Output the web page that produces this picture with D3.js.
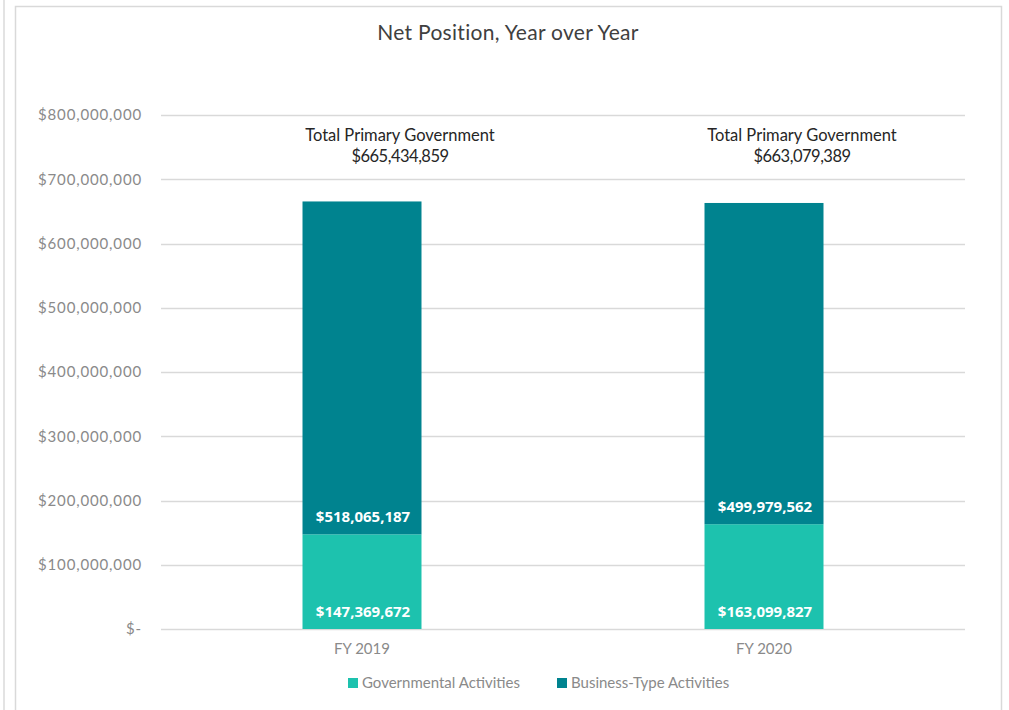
<!DOCTYPE html>
<html>
<head>
<meta charset="utf-8">
<script src="https://cdn.jsdelivr.net/npm/d3@7"></script>
<style>
  html, body { margin: 0; padding: 0; background: #fff; }
  svg { display: block; }
</style>
</head>
<body>
<svg id="chart" width="1009" height="710"></svg>
<script>
// ---- data ----
const categories = ["FY 2019", "FY 2020"];
const seriesNames = ["Governmental Activities", "Business-Type Activities"];
const governmental = [147369672, 163099827];
const businessType = [518065187, 499979562];
const totals = [665434859, 663079389];
const yTicks = [0, 100000000, 200000000, 300000000, 400000000, 500000000, 600000000, 700000000, 800000000];
const title = "Net Position, Year over Year";
const totalLabel = "Total Primary Government";

// ---- layout ----
const W = 1009, H = 710;
const plot = { left: 161, right: 965, top: 115, bottom: 629 };
const colors = ["#1DC2AE", "#00838F"];
const uiFont = "Lato, 'Noto Sans', sans-serif";
const barFont = "'Open Sans', 'Noto Sans', sans-serif";

const svg = d3.select("#chart");

// frames
svg.append("rect").attr("x", 3).attr("y", -5).attr("width", 2).attr("height", H + 10).attr("fill", "#e3e3e3");
svg.append("rect").attr("x", 15.5).attr("y", 6.5).attr("width", 986).attr("height", H + 10)
  .attr("fill", "#fff").attr("stroke", "#d9d9d9").attr("stroke-width", 1.5);

const x = d3.scaleBand().domain(categories).range([plot.left, plot.right]).paddingInner(0).paddingOuter(0);
const y = d3.scaleLinear().domain([0, 800000000]).range([plot.bottom, plot.top]);
const barW = x.bandwidth() * 0.296;

// gridlines
svg.append("g").selectAll("line").data(yTicks).join("line")
  .attr("x1", plot.left).attr("x2", plot.right)
  .attr("y1", d => Math.round(y(d)) + 0.5).attr("y2", d => Math.round(y(d)) + 0.5)
  .attr("stroke", "#d9d9d9").attr("stroke-width", 1.5);

// y axis labels
const fmt = d3.format(",");
const yAxis = d3.axisLeft(y).tickValues(yTicks).tickSize(0).tickPadding(0)
  .tickFormat(d => d === 0 ? "$-" : "$" + fmt(d));
const yg = svg.append("g").attr("transform", `translate(${plot.left - 19},0)`).call(yAxis);
yg.select(".domain").remove();
yg.selectAll("text").attr("font-family", uiFont).attr("font-size", 15).attr("fill", "#8a8a8a")
  .attr("letter-spacing", "0.85px");

// x axis labels
const xAxis = d3.axisBottom(x).tickSize(0).tickPadding(0);
const xg = svg.append("g").attr("transform", `translate(0,${plot.bottom + 14})`).call(xAxis);
xg.select(".domain").remove();
xg.selectAll("text").attr("font-family", uiFont).attr("font-size", 15).attr("fill", "#8a8a8a");

// stacked bars
const rows = categories.map((c, i) => ({ cat: c, gov: governmental[i], bus: businessType[i] }));
const stack = d3.stack().keys(["gov", "bus"])(rows);
const barG = svg.append("g");
stack.forEach((layer, li) => {
  barG.selectAll(null).data(layer).join("rect")
    .attr("x", d => x(d.data.cat) + x.bandwidth() / 2 - barW / 2)
    .attr("width", barW)
    .attr("y", d => y(d[1]))
    .attr("height", d => y(d[0]) - y(d[1]))
    .attr("fill", colors[li]);
  barG.selectAll(null).data(layer).join("text")
    .attr("x", d => x(d.data.cat) + x.bandwidth() / 2 + 1)
    .attr("y", d => y(d[0]) - 12.5)
    .attr("text-anchor", "middle")
    .attr("font-family", barFont).attr("font-weight", 700).attr("font-size", 15)
    .attr("fill", "#fff")
    .text(d => "$" + fmt(d[1] - d[0]));
});

// total annotations
const annG = svg.append("g");
categories.forEach((c, i) => {
  const cx = x(c) + x.bandwidth() / 2 + 38;
  annG.append("text").attr("x", cx).attr("y", 141).attr("text-anchor", "middle")
    .attr("font-family", uiFont).attr("font-size", 16.5).attr("fill", "#262626").text(totalLabel);
  annG.append("text").attr("x", cx).attr("y", 162).attr("text-anchor", "middle")
    .attr("font-family", uiFont).attr("font-size", 16.5).attr("fill", "#262626")
    .attr("letter-spacing", "-0.5px").text("$" + fmt(totals[i]));
});

// title
svg.append("text").attr("x", 508).attr("y", 40).attr("text-anchor", "middle")
  .attr("font-family", uiFont).attr("font-size", 21).attr("fill", "#404040")
  .attr("letter-spacing", "0.3px").text(title);

// legend
const legendX = [348, 557];
const lg = svg.append("g");
seriesNames.forEach((n, i) => {
  lg.append("rect").attr("x", legendX[i]).attr("y", 678).attr("width", 10).attr("height", 10).attr("fill", colors[i]);
  lg.append("text").attr("x", legendX[i] + 14).attr("y", 688)
    .attr("font-family", uiFont).attr("font-size", 15).attr("fill", "#8a8a8a").text(n);
});
</script>
</body>
</html>
